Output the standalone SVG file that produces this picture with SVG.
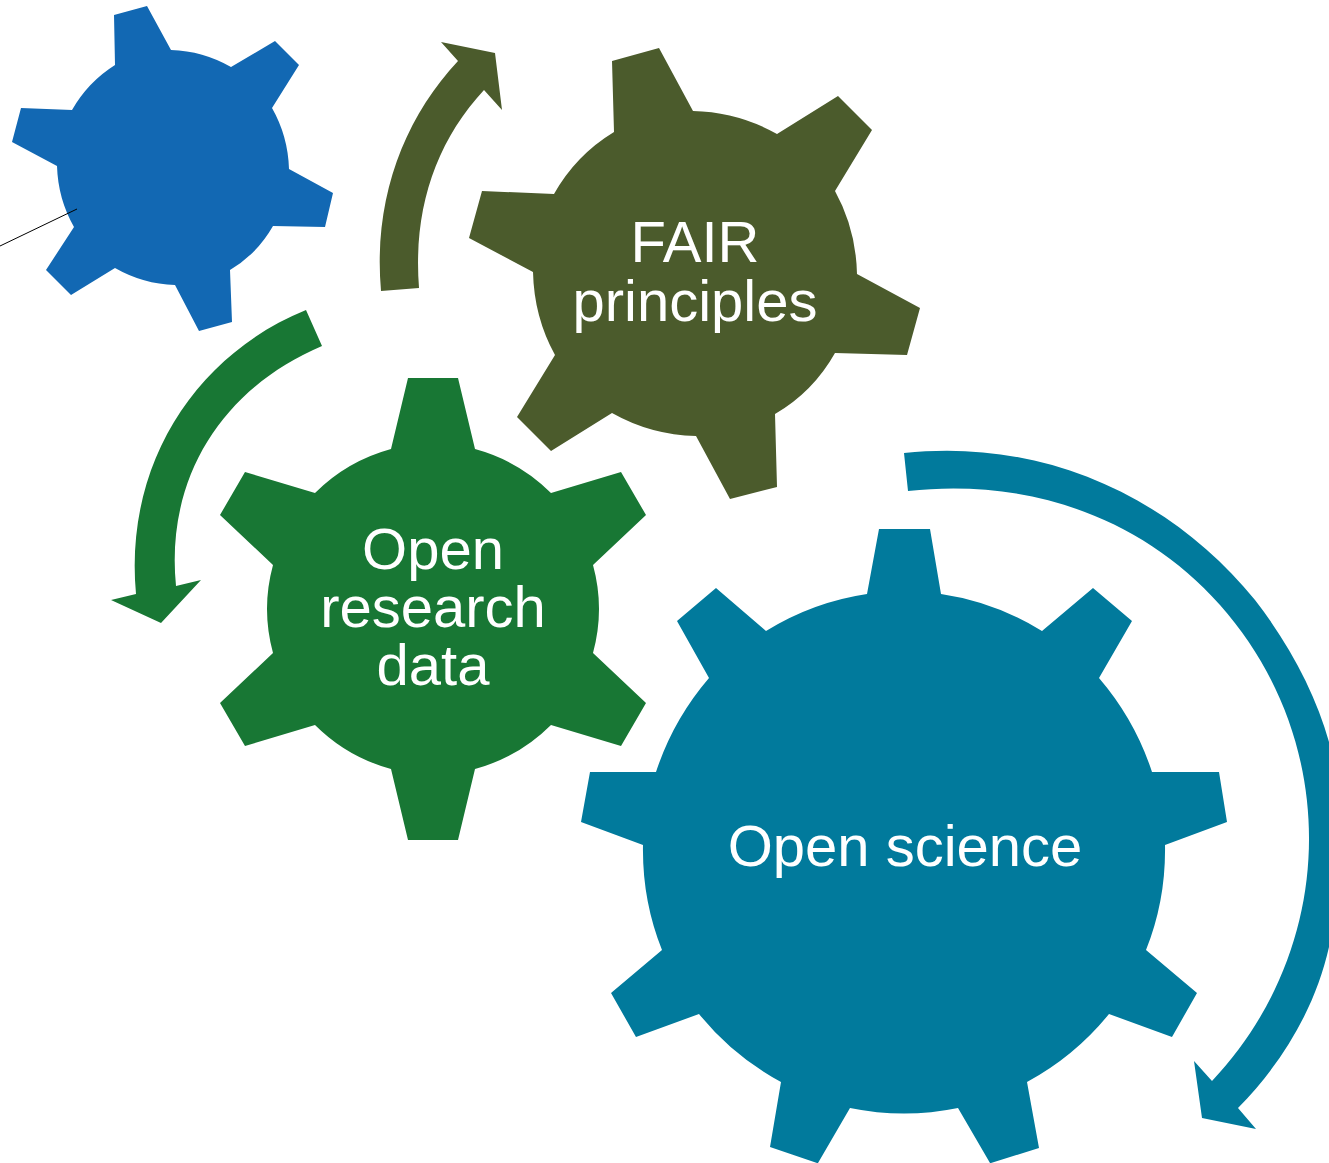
<svg xmlns="http://www.w3.org/2000/svg" width="1329" height="1163" viewBox="0 0 1329 1163">
<style>
.t{font-family:"Liberation Sans",Arial,sans-serif;font-size:58px;fill:#fff;text-anchor:middle}
.blue{fill:#1268b3}.olive{fill:#4b5b2c}.green{fill:#187734}.teal{fill:#017a9c}
</style>
<rect width="1329" height="1163" fill="#fff"/>
<g id="gear-blue"><path class="blue" d="M114 15L147 6L171 50Q203 51 231 67L275 41L299 65L272 108Q288 136 289 169L333 193L325 227L273 226Q257 254 230 270L232 322L199 331L175 285Q143 284 115 268L71 295L46 270L74 227Q58 199 57 166L12 142L21 108L72 110Q88 82 115 65Z"/></g>
<g id="gear-fair"><path class="olive" d="M612 61L659 48L693 111Q738 112 777 134L838 96L872 130L835 191Q856 229 857 274L920 308L907 355L835 353Q813 392 775 414L777 487L730 499L696 436Q651 435 612 413L551 451L517 417L555 355Q534 317 533 272L469 238L482 191L554 194Q576 155 614 132Z"/><text class="t" x="695" y="262">FAIR</text><text class="t" x="695" y="321">principles</text></g>
<g id="gear-data"><path class="green" d="M408 378H458L475 449Q519 461 551 493L621 472L646 515L593 565Q605 609 593 653L646 703L621 746L551 725Q519 757 475 769L458 840H408L391 769Q347 757 315 725L245 746L220 703L273 653Q261 609 273 565L220 515L245 472L315 493Q347 461 391 449Z"/><text class="t" x="433" y="569">Open</text><text class="t" x="433" y="627">research</text><text class="t" x="433" y="685">data</text></g>
<g id="gear-science"><path class="teal" d="M879 529H930L941 594Q995 602 1042 631L1093 588L1132 621L1099 678Q1135 720 1152 772H1219L1227 822L1165 845Q1166 900 1146 950L1197 993L1172 1037L1109 1014Q1075 1056 1027 1082L1039 1148L991 1163H990L958 1108Q904 1119 850 1108L818 1163H817L770 1147L781 1082Q733 1056 699 1014L636 1037L611 993L662 950Q642 900 643 845L581 822L590 772H656Q673 720 709 678L677 621L716 588L766 631Q813 602 867 594Z"/><text class="t" x="905" y="866">Open science</text></g>
<g id="connectors">
<path class="olive" d="M381 291C373 200 403 120 458 61L441 42L495 53L502 110L484 90C435 143 413 210 419 288Z"/>
<path class="green" d="M306 310L322 346C225 387 165 475 176 586L201 580L161 623L111 600L136 594C124 465 195 355 306 310Z"/>
<path class="teal" d="M904 453C1040 438 1170 495 1255 600C1290 645 1316 695 1329 742V947C1316 1005 1285 1060 1238 1108L1256 1129L1202 1118L1194 1061L1212 1081C1340 945 1340 740 1220 605C1140 515 1025 478 908 491Z"/>
<path d="M0 246L77 209" stroke="#000" stroke-width="1" fill="none"/>
</g>
</svg>
